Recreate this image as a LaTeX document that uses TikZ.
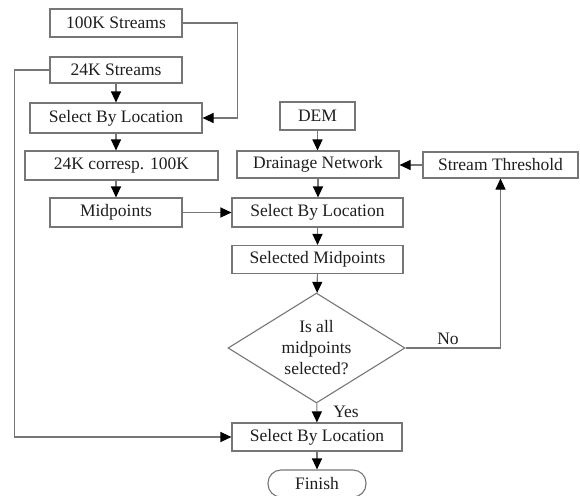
\documentclass[tikz,border=0pt]{standalone}
\usepackage{fontspec}
\setmainfont{Liberation Serif}
\usetikzlibrary{arrows.meta,shapes.geometric}
\definecolor{linegray}{RGB}{118,118,118}
\definecolor{textcol}{RGB}{30,30,30}
\begin{document}
\begin{tikzpicture}[x=1pt,y=-1pt,
  box/.style={draw=linegray, line width=1.1pt, inner sep=0pt, text=textcol,
    font=\fontsize{17.5}{21}\selectfont},
  lbl/.style={inner sep=0pt, text=textcol, font=\fontsize{17.5}{21}\selectfont},
  conn/.style={draw=linegray, line width=1.1pt,
    -{Triangle[length=11pt,width=10pt,color=black]}}]
\useasboundingbox (0,0) rectangle (580,495);
% left column
\node[box, minimum width=132pt, minimum height=28pt] (s100) at (116,23) {100K Streams};
\node[box, minimum width=132pt, minimum height=26pt] (s24) at (116,70) {24K Streams};
\node[box, minimum width=172pt, minimum height=30pt] (sel1) at (116,118) {Select By Location};
\node[box, minimum width=193pt, minimum height=29pt] (corr) at (121.5,165.5) {24K corresp. 100K};
\node[box, minimum width=132pt, minimum height=29pt] (mid) at (116,212.5) {Midpoints};
% middle column
\node[box, minimum width=75pt, minimum height=28pt] (dem) at (317.5,116) {DEM};
\node[box, minimum width=162pt, minimum height=27pt] (drain) at (318,164.5) {Drainage Network};
\node[box, minimum width=171pt, minimum height=29pt] (sel2) at (317.5,212.5) {Select By Location};
\node[box, minimum width=171pt, minimum height=28pt] (selmid) at (317.5,259.5) {Selected Midpoints};
\node[draw=linegray, line width=1.1pt, shape=diamond, inner sep=0pt,
  minimum width=177pt, minimum height=110pt] (dec) at (316.5,348) {};
\node[lbl, align=center] (dectext) at (dec.center) {Is all\\midpoints\\selected?};
\node[box, minimum width=170pt, minimum height=28pt] (sel3) at (317,437) {Select By Location};
\node[box, rounded corners=13pt, minimum width=98pt, minimum height=27pt] (fin) at (317,483.5) {Finish};
% right
\node[box, minimum width=155pt, minimum height=26pt] (thr) at (500.5,165) {Stream Threshold};
\node[lbl] (no) at (448,339) {No};
\node[lbl] (yes) at (346,412) {Yes};
% connectors
\draw[conn] (s24) -- (sel1);
\draw[conn] (sel1.south) -- (sel1.south |- corr.north);
\draw[conn] (mid.north |- corr.south) -- (mid.north);
\draw[conn] (s100.east) -- ++(55,0) |- (sel1.east);
\draw[conn] (s24.west) -- ++(-35,0) |- (sel3.west);
\draw[conn] (mid) -- (sel2);
\draw[conn] (dem.south) -- (dem.south |- drain.north);
\draw[conn] (drain.south) -- (drain.south |- sel2.north);
\draw[conn] (thr.west) -- (thr.west -| drain.east);
\draw[conn] (sel2) -- (selmid);
\draw[conn] (selmid) -- (dec);
\draw[conn] (dec.east) -| (thr.south);
\draw[conn] (dec) -- (sel3);
\draw[conn] (sel3) -- (fin);
\end{tikzpicture}
\end{document}
